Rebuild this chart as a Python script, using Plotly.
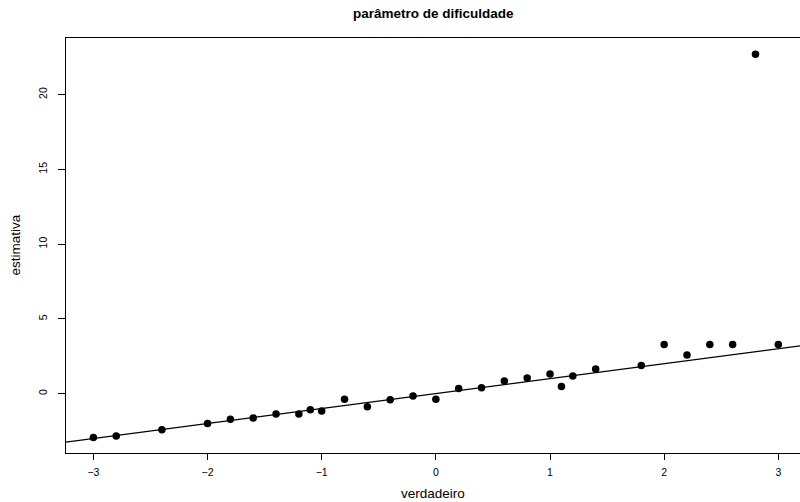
import plotly.graph_objects as go

# true difficulty values and their estimates
verdadeiro = [-3.0, -2.8, -2.4, -2.0, -1.8, -1.6, -1.4, -1.2, -1.1, -1.0,
              -0.8, -0.6, -0.4, -0.2, 0.0, 0.2, 0.4, 0.6, 0.8, 1.0,
              1.1, 1.2, 1.4, 1.8, 2.0, 2.2, 2.4, 2.6, 2.8, 3.0]
estimativa = [-2.94, -2.83, -2.41, -1.99, -1.72, -1.63, -1.36, -1.36, -1.07, -1.16,
              -0.38, -0.87, -0.40, -0.16, -0.38, 0.35, 0.40, 0.84, 1.04, 1.31,
              0.47, 1.18, 1.65, 1.89, 3.28, 2.58, 3.28, 3.28, 22.7, 3.28]

x_ticks = [-3, -2, -1, 0, 1, 2, 3]
y_ticks = [0, 5, 10, 15, 20]

# reference line y = a + b*x
intercept, slope = 0.0, 1.0
x_range = [-3.24, 3.19]
y_range = [-3.97, 23.79]

font = "Liberation Sans, Arial, Helvetica, sans-serif"

fig = go.Figure()
line_x = [x_range[0] - 0.1, x_range[1] + 0.1]
fig.add_trace(go.Scatter(
    x=line_x, y=[intercept + slope * v for v in line_x],
    mode="lines", line=dict(color="black", width=1.2),
    hoverinfo="skip", showlegend=False, cliponaxis=True))
fig.add_trace(go.Scatter(
    x=verdadeiro, y=estimativa, mode="markers",
    marker=dict(color="black", size=7.5, line=dict(width=0)),
    showlegend=False, cliponaxis=False))

fig.update_layout(
    template="none",
    width=800, height=502,
    margin=dict(l=66, r=0, t=38, b=49),
    paper_bgcolor="white", plot_bgcolor="white",
    font=dict(family=font, color="black", size=10),
    showlegend=False,
    xaxis=dict(range=x_range, tickvals=x_ticks, ticktext=[str(v).replace("-", "\u2212") for v in x_ticks],
               showgrid=False, zeroline=False,
               showline=True, mirror=True, linecolor="black", linewidth=1,
               ticks="outside", ticklen=6, tickwidth=1, tickcolor="black",
               ticklabelstandoff=3,
               tickfont=dict(family=font, size=10.5, color="black")),
    yaxis=dict(range=y_range, tickvals=y_ticks, ticktext=[str(v) for v in y_ticks],
               showgrid=False, zeroline=False,
               showline=True, mirror=False, linecolor="black", linewidth=1,
               ticks="outside", ticklen=7, tickwidth=1, tickcolor="black",
               tickangle=-90, ticklabelstandoff=7,
               tickfont=dict(family=font, size=10.5, color="black")),
    annotations=[
        dict(text="<b>parâmetro de dificuldade</b>", xref="paper", yref="paper",
             x=0.5, y=1, yshift=25, xanchor="center", yanchor="middle",
             showarrow=False, font=dict(family=font, size=13.5, color="black")),
        dict(text="verdadeiro", xref="paper", yref="paper",
             x=0.5, y=0, yshift=-40, xanchor="center", yanchor="middle",
             showarrow=False, font=dict(family=font, size=13.5, color="black")),
        dict(text="estimativa", xref="paper", yref="paper",
             x=0, y=0.5, xshift=-51, xanchor="center", yanchor="middle",
             textangle=-90,
             showarrow=False, font=dict(family=font, size=13.5, color="black")),
    ],
)

fig.write_html("out.html")
